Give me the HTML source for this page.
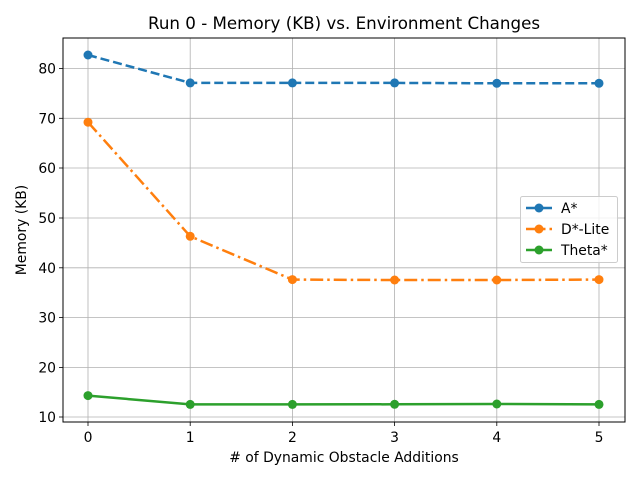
<!DOCTYPE html>
<html><head><meta charset="utf-8"><style>body{margin:0;background:#fff}svg{display:block}text{font-family:"DejaVu Sans","Liberation Sans",sans-serif;fill:#000}</style></head>
<body>
<svg width="640" height="480" viewBox="0 0 640 480" xmlns="http://www.w3.org/2000/svg">
<rect width="640" height="480" fill="#fff"/>
<g stroke="#b0b0b0" stroke-width="0.8">
<line x1="88" y1="38" x2="88" y2="422"/><line x1="190.2" y1="38" x2="190.2" y2="422"/><line x1="292.4" y1="38" x2="292.4" y2="422"/><line x1="394.6" y1="38" x2="394.6" y2="422"/><line x1="496.8" y1="38" x2="496.8" y2="422"/><line x1="599" y1="38" x2="599" y2="422"/>
<line x1="63" y1="417" x2="625" y2="417"/><line x1="63" y1="367.4" x2="625" y2="367.4"/><line x1="63" y1="317.6" x2="625" y2="317.6"/><line x1="63" y1="267.8" x2="625" y2="267.8"/><line x1="63" y1="218" x2="625" y2="218"/><line x1="63" y1="168" x2="625" y2="168"/><line x1="63" y1="118.3" x2="625" y2="118.3"/><line x1="63" y1="68.5" x2="625" y2="68.5"/>
</g>
<g fill="none" stroke-width="2.5">
<polyline stroke="#1f77b4" stroke-dasharray="9,4" points="88,55 190.2,82.9 292.4,82.9 394.6,82.9 496.8,83.3 599,83.3"/>
<polyline stroke="#ff7f0e" stroke-dasharray="13,4,2.5,4" points="88,122.2 190.2,236.3 292.4,279.6 394.6,280 496.8,280 599,279.6"/>
<polyline stroke="#2ca02c" points="88,395.6 190.2,404.4 292.4,404.4 394.6,404.3 496.8,404 599,404.4"/>
</g>
<g fill="#1f77b4"><circle cx="88" cy="55" r="4.5"/><circle cx="190.2" cy="82.9" r="4.5"/><circle cx="292.4" cy="82.9" r="4.5"/><circle cx="394.6" cy="82.9" r="4.5"/><circle cx="496.8" cy="83.3" r="4.5"/><circle cx="599" cy="83.3" r="4.5"/></g>
<g fill="#ff7f0e"><circle cx="88" cy="122.2" r="4.5"/><circle cx="190.2" cy="236.3" r="4.5"/><circle cx="292.4" cy="279.6" r="4.5"/><circle cx="394.6" cy="280" r="4.5"/><circle cx="496.8" cy="280" r="4.5"/><circle cx="599" cy="279.6" r="4.5"/></g>
<g fill="#2ca02c"><circle cx="88" cy="395.6" r="4.5"/><circle cx="190.2" cy="404.4" r="4.5"/><circle cx="292.4" cy="404.4" r="4.5"/><circle cx="394.6" cy="404.3" r="4.5"/><circle cx="496.8" cy="404" r="4.5"/><circle cx="599" cy="404.4" r="4.5"/></g>
<rect x="63" y="38" width="562" height="384" fill="none" stroke="#000" stroke-width="1"/>
<g stroke="#000" stroke-width="0.8">
<line x1="88" y1="422" x2="88" y2="426"/><line x1="190.2" y1="422" x2="190.2" y2="426"/><line x1="292.4" y1="422" x2="292.4" y2="426"/><line x1="394.6" y1="422" x2="394.6" y2="426"/><line x1="496.8" y1="422" x2="496.8" y2="426"/><line x1="599" y1="422" x2="599" y2="426"/>
<line x1="59" y1="417" x2="63" y2="417"/><line x1="59" y1="367.4" x2="63" y2="367.4"/><line x1="59" y1="317.6" x2="63" y2="317.6"/><line x1="59" y1="267.8" x2="63" y2="267.8"/><line x1="59" y1="218" x2="63" y2="218"/><line x1="59" y1="168" x2="63" y2="168"/><line x1="59" y1="118.3" x2="63" y2="118.3"/><line x1="59" y1="68.5" x2="63" y2="68.5"/>
</g>
<g font-size="13.9" text-anchor="middle">
<text x="88" y="442">0</text><text x="190.2" y="442">1</text><text x="292.4" y="442">2</text><text x="394.6" y="442">3</text><text x="496.8" y="442">4</text><text x="599" y="442">5</text>
</g>
<g font-size="13.9" text-anchor="end">
<text x="56" y="422">10</text><text x="56" y="372.4">20</text><text x="56" y="322.6">30</text><text x="56" y="272.8">40</text><text x="56" y="223">50</text><text x="56" y="173">60</text><text x="56" y="123.3">70</text><text x="56" y="73.5">80</text>
</g>
<text x="344" y="462" font-size="13.9" text-anchor="middle"># of Dynamic Obstacle Additions</text>
<text x="26" y="230" font-size="13.9" text-anchor="middle" transform="rotate(-90 26 230)">Memory (KB)</text>
<text x="344" y="29" font-size="16.7" text-anchor="middle">Run 0 - Memory (KB) vs. Environment Changes</text>
<rect x="520.5" y="196.5" width="97" height="66" rx="2" fill="#fff" fill-opacity="0.8" stroke="#ccc"/>
<line x1="526" y1="208" x2="552" y2="208" stroke="#1f77b4" stroke-width="2.5"/><circle cx="539" cy="208" r="4.5" fill="#1f77b4"/>
<line x1="526" y1="229" x2="552" y2="229" stroke="#ff7f0e" stroke-width="2.5" stroke-dasharray="13,4,2.5,4"/><circle cx="539" cy="229" r="4.5" fill="#ff7f0e"/>
<line x1="526" y1="250" x2="552" y2="250" stroke="#2ca02c" stroke-width="2.5"/><circle cx="539" cy="250" r="4.5" fill="#2ca02c"/>
<g font-size="13.9"><text x="561" y="213">A*</text><text x="561" y="234">D*-Lite</text><text x="561" y="255">Theta*</text></g>
</svg>
</body></html>
